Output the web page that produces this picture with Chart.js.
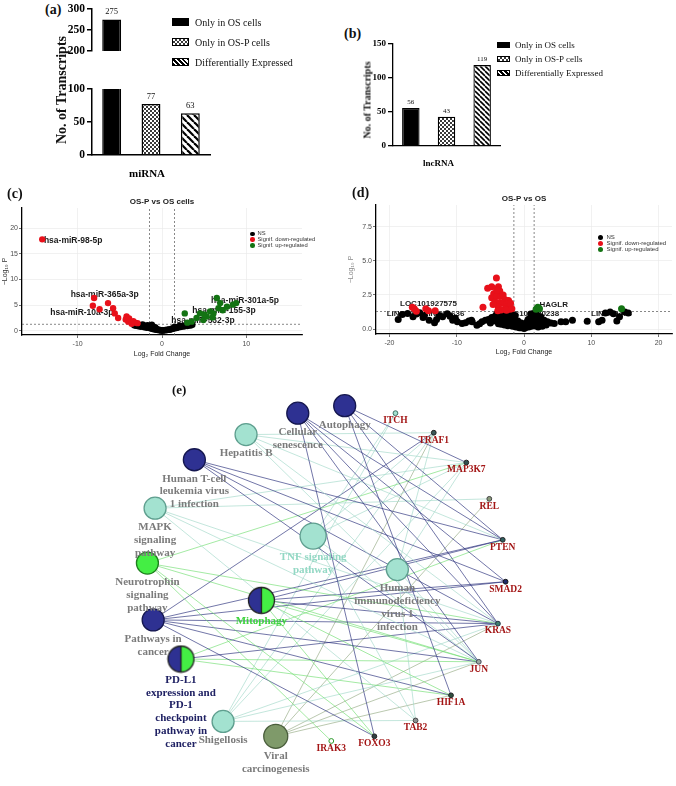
<!DOCTYPE html>
<html>
<head>
<meta charset="utf-8">
<title>OS vs OS-P transcripts</title>
<script src="https://cdn.jsdelivr.net/npm/chart.js@4.4.1/dist/chart.umd.min.js"></script>
<style>
  body { margin:0; width:676px; height:786px; position:relative; background:#fff; overflow:hidden; font-family:"Liberation Serif", serif; }
  .pane { position:absolute; }
  .tag { position:absolute; font:bold 14px "Liberation Serif", serif; color:#111; }
  .ytitle { position:absolute; transform:translate(-50%,-50%) rotate(-90deg); white-space:nowrap; font-weight:bold; color:#111; }
  .leg { position:absolute; color:#111; white-space:nowrap; }
  .leg div { display:flex; align-items:center; }
  .leg b { display:inline-block; border:1px solid #000; box-sizing:border-box; }
  .vleg { position:absolute; font-family:"Liberation Sans", sans-serif; color:#333; white-space:nowrap; }
  .vleg div { display:flex; align-items:center; }
  .vleg i { display:inline-block; border-radius:50%; }
</style>
</head>
<body>
<div class="tag" style="left:45px;top:2px">(a)</div>
<div class="pane" style="left:40px;top:0;width:175px;height:80px"><canvas id="mirTop"></canvas></div>
<div class="pane" style="left:40px;top:80px;width:175px;height:100px"><canvas id="mirBot"></canvas></div>
<div class="ytitle" style="left:62px;top:90px;font-size:14px">No. of Transcripts</div>
<div class="leg" id="legA" style="left:172px;top:12px;font-size:10px"></div>

<div class="tag" style="left:344px;top:26px">(b)</div>
<div class="pane" style="left:340px;top:36px;width:165px;height:136px"><canvas id="lnc"></canvas></div>
<div class="ytitle" style="left:367px;top:100px;font-size:10px">No. of Transcripts</div>
<div class="leg" id="legB" style="left:497px;top:38px;font-size:9px"></div>

<div class="tag" style="left:7px;top:186px">(c)</div>
<div class="pane" style="left:0;top:195px;width:310px;height:165px"><canvas id="volMir"></canvas></div>
<div class="vleg" id="legC" style="left:250px;top:231px;font-size:5.8px;line-height:5.8px"></div>

<div class="tag" style="left:352px;top:185px">(d)</div>
<div class="pane" style="left:335px;top:193px;width:341px;height:166px"><canvas id="volLnc"></canvas></div>
<div class="vleg" id="legD" style="left:598px;top:234px;font-size:6px;line-height:6px"></div>

<div class="pane" style="left:0;top:370px;width:676px;height:416px"><canvas id="net"></canvas></div>
<div class="tag" style="left:172px;top:382px;font-size:13px">(e)</div>

<script>
// ---- (a)/(b) transcript counts
const barGroups = ['Only in OS cells', 'Only in OS-P cells', 'Differentially Expressed'];
const mirnaCounts = [275, 77, 63];
const lncCounts = [56, 43, 119];

// ---- (c)/(d) volcano points: [log2 fold change, -log10 p]
const volcanoClasses = ['NS', 'Signif. down-regulated', 'Signif. up-regulated'];
const fcCut = 1.5;
const pCut = 1.3;

const mirNS = [[-3.3,1.1],[-3.1,1.0],[-2.9,1.2],[-2.8,0.9],[-2.6,1.0],[-2.5,0.8],[-2.4,1.1],[-2.3,1.25],[-2.2,0.9],
  [-2.1,0.7],[-2.0,1.0],[-1.9,0.8],[-1.8,0.6],[-1.7,1.1],[-1.6,0.7],[-1.5,0.9],[-1.4,0.5],[-1.3,0.7],[-1.2,0.4],
  [-1.2,1.2],[-1.1,0.6],[-1.0,0.3],[-0.9,0.5],[-0.8,0.3],[-0.8,0.7],[-0.7,0.2],[-0.6,0.4],[-0.5,0.15],[-0.4,0.25],
  [-0.3,0.1],[-0.2,0.2],[-0.1,0.05],[0.0,0.1],[0.1,0.05],[0.2,0.15],[0.3,0.1],[0.4,0.2],[0.5,0.1],[0.6,0.25],
  [0.7,0.2],[0.8,0.3],[0.9,0.2],[1.0,0.35],[1.1,0.3],[1.2,0.45],[1.3,0.4],[1.4,0.55],[1.5,0.5],[1.5,0.8],[1.6,0.6],
  [1.7,0.55],[1.8,0.7],[1.9,0.65],[2.0,0.8],[2.1,1.0],[2.2,0.75],[2.4,0.9],[2.6,0.85],[2.8,1.0],[3.0,0.95],
  [3.2,1.1],[3.4,1.05],[3.6,1.2]];
const mirDown = [[-14.2,17.8],[-8.05,6.4],[-8.2,4.9],[-7.4,4.2],[-6.4,5.4],[-5.8,4.4],[-5.6,3.4],[-5.2,2.5],
  [-4.2,2.8],[-4.0,1.8],[-3.2,1.6],[-3.6,1.4],[-4.3,2.2],[-3.9,2.4],[-3.4,1.9],[-2.9,1.5]];
const mirUp = [[2.7,3.4],[3.0,1.6],[3.5,1.8],[4.1,2.5],[4.5,3.4],[4.9,2.1],[5.3,2.8],[5.7,3.8],[6.1,3.4],
  [6.5,6.4],[6.7,4.4],[6.9,5.4],[7.7,4.7],[8.4,5.1],[8.8,5.4],[5.0,3.2],[6.0,2.6],[7.2,4.0]];
const mirTags = [['hsa-miR-98-5p',-14.0,17.6,'left'],['hsa-miR-365a-3p',-6.8,7.1,'center'],
  ['hsa-miR-10a-3p',-9.5,3.6,'center'],['hsa-miR-301a-5p',5.8,5.8,'left'],
  ['hsa-miR-155-3p',3.6,4.0,'left'],['hsa-miR-532-3p',1.1,2.0,'left']];

const lncNS = [[-18.7,0.7],[-18.1,1.07],[-17.3,1.15],[-16.5,0.9],[-16.0,1.1],[-15.5,1.2],[-15.0,0.85],[-14.8,1.0],
  [-14.1,0.65],[-13.3,0.46],[-13.0,0.7],[-12.6,1.0],[-12.1,0.9],[-11.4,1.13],[-11.0,0.95],[-10.6,0.65],[-10.2,0.8],
  [-9.9,0.53],[-9.2,0.41],[-8.7,0.46],[-8.2,0.6],[-7.8,0.65],[-7.7,0.53],[-7.0,0.29],[-6.6,0.4],[-6.25,0.53],
  [-5.75,0.65],[-5.3,0.7],[-5.0,0.45],[-4.8,0.85],[-4.5,0.6],[-4.3,0.94],[-4.05,1.13],[-3.9,0.75],[-3.8,0.4],
  [-3.6,1.0],[-3.5,0.6],[-3.4,0.35],[-3.3,1.25],[-3.2,0.8],[-3.0,0.5],[-2.9,0.3],[-2.8,1.13],[-2.7,0.7],[-2.6,0.9],
  [-2.5,0.45],[-2.4,0.25],[-2.4,1.2],[-2.3,1.0],[-2.2,0.6],[-2.1,0.8],[-2.0,0.35],[-1.9,0.9],[-1.8,0.55],[-1.8,1.1],
  [-1.7,0.2],[-1.6,0.65],[-1.5,0.3],[-1.4,0.75],[-1.3,0.45],[-1.3,1.0],[-1.2,0.15],[-1.1,0.46],[-1.0,0.2],
  [-0.9,0.6],[-0.8,0.35],[-0.7,0.1],[-0.6,0.29],[-0.5,0.1],[-0.4,0.45],[-0.3,0.2],[-0.15,0.12],[0.0,0.05],
  [0.1,0.3],[0.2,0.1],[0.35,0.17],[0.4,0.5],[0.5,0.25],[0.6,0.7],[0.7,0.15],[0.8,0.41],[0.9,0.8],[1.0,0.35],
  [1.0,1.1],[1.1,0.2],[1.2,0.65],[1.2,0.95],[1.3,0.5],[1.4,1.15],[1.5,0.9],[1.6,0.4],[1.7,0.25],[1.8,1.13],
  [1.8,0.95],[1.9,0.7],[2.0,1.0],[2.1,0.15],[2.2,0.55],[2.3,0.8],[2.5,0.9],[2.5,0.3],[2.7,0.2],[2.8,0.45],
  [3.0,0.65],[3.3,0.3],[3.5,0.53],[4.0,0.45],[4.5,0.41],[5.5,0.53],[6.2,0.53],[7.2,0.65],[9.4,0.58],[11.1,0.53],
  [11.6,0.65],[12.1,1.18],[12.8,1.25],[13.3,1.13],[13.8,0.6],[14.2,0.9],[15.0,1.25],[15.5,1.18]];
const lncDown = [[-16.6,1.6],[-16.3,1.5],[-16.0,1.3],[-14.6,1.5],[-14.2,1.35],[-13.2,1.35],[-6.1,1.6],
  [-4.1,3.75],[-5.4,3.0],[-3.8,3.1],[-4.5,2.6],[-3.6,2.8],[-4.8,2.3],[-4.1,2.4],[-3.4,2.4],[-2.8,2.15],
  [-4.3,2.0],[-3.6,1.95],[-3.1,1.9],[-2.6,1.8],[-2.1,1.67],[-3.8,1.6],[-2.8,1.5],[-2.1,1.45],[-3.4,1.4],
  [-2.3,2.1],[-3.1,2.5],[-4.05,2.85],[-4.8,3.1],[-2.6,1.38],[-1.8,1.5],[-4.6,1.8],[-3.9,1.35],[-2.0,1.9]];
const lncUp = [[2.05,1.6],[1.8,1.45],[2.3,1.5],[14.5,1.5]];
const lncTags = [['LOC101927575',-14.2,1.85,'center'],['LINC01194',-17.4,1.1,'center'],
  ['LINC00636',-11.9,1.1,'center'],['LOC100130238',1.0,1.1,'center'],['HAGLR',2.3,1.75,'left'],
  ['LINC00473',13.0,1.1,'center']];

// ---- (e) pathway / gene network
const pathways = ['Cellular\nsenescence', 'Autophagy', 'Hepatitis B', 'Human T-cell\nleukemia virus\n1 infection',
  'MAPK\nsignaling\npathway', 'TNF signaling\npathway', 'Neurotrophin\nsignaling\npathway', 'Mitophagy',
  'Human\nimmunodeficiency\nvirus 1\ninfection', 'Pathways in\ncancer',
  'PD-L1\nexpression and\nPD-1\ncheckpoint\npathway in\ncancer', 'Shigellosis', 'Viral\ncarcinogenesis'];
const pathwayCluster = ['A','A','C','A','C','C','B','AB','C','A','AB','C','D'];
const genes = ['ITCH','TRAF1','MAP3K7','REL','PTEN','SMAD2','KRAS','JUN','HIF1A','TAB2','FOXO3','IRAK3'];
// [pathway, gene, cluster of the link]
const links = [
  [0,4,'A'],[0,5,'A'],[0,6,'A'],[0,10,'A'],[0,7,'A'],
  [1,2,'A'],[1,4,'A'],[1,6,'A'],[1,8,'A'],
  [2,2,'C'],[2,6,'C'],[2,7,'C'],[2,4,'C'],[2,1,'C'],
  [3,4,'A'],[3,5,'A'],[3,6,'A'],[3,7,'A'],
  [4,2,'C'],[4,6,'C'],[4,7,'C'],[4,9,'C'],[4,3,'C'],
  [5,0,'C'],[5,1,'C'],[5,2,'C'],[5,7,'C'],[5,9,'C'],
  [6,6,'B'],[6,7,'B'],[6,10,'B'],[6,11,'B'],[6,2,'B'],
  [7,4,'A'],[7,5,'A'],[7,6,'A'],[7,7,'B'],[7,8,'B'],[7,10,'B'],
  [8,1,'C'],[8,2,'C'],[8,7,'C'],[8,9,'C'],
  [9,1,'A'],[9,4,'A'],[9,5,'A'],[9,6,'A'],[9,7,'A'],[9,8,'A'],[9,10,'A'],
  [10,6,'A'],[10,4,'B'],[10,7,'B'],[10,8,'B'],
  [11,0,'C'],[11,1,'C'],[11,2,'C'],[11,7,'C'],[11,9,'C'],[11,6,'C'],
  [12,1,'D'],[12,3,'D'],[12,6,'D'],[12,7,'D'],[12,8,'D']
];

// network layout (layout units on the network canvas scales)
const pathwayX = [296,345,242,188,147,312,139,258,400,145,174,218,273];
const pathwayY = [401,393,424,451,503,533,562,602,569,623,665,732,748];
const geneX = [398,438,472,496,510,513,505,485,456,419,376,331];
const geneY = [401,422,454,493,537,582,627,668,704,731,748,753];

// ---- styles
Chart.defaults.font.family = '"Liberation Serif", serif';
Chart.defaults.color = '#000';
const SANS = '"Liberation Sans", Arial, sans-serif';
const classColors = ['#000000', '#e8101a', '#137313'];
const swatchCss = ['#000', 'repeating-conic-gradient(#3a3a3a 0 25%, #fff 0 50%) 0 0/4px 4px',
  'repeating-linear-gradient(45deg,#000 0 1.5px,#fff 1.5px 3.5px)'];
const edgeColor = { A: 'rgba(45,50,125,0.75)', B: 'rgba(110,222,110,0.7)', C: 'rgba(165,218,203,0.75)', D: 'rgba(145,168,128,0.7)' };
const nodeFill = { A: '#2e3192', B: '#44ee44', C: '#a3e2d0', D: '#7f9a6a', AB: '#fff' };
const nodeEdge = { A: '#15174f', B: '#1f7f1f', C: '#5f9f8f', D: '#4a5e3c', AB: '#222' };
const pathwayRadius = [11,11,11,11,11,13,11,13,11,11,13,11,12];
const pathwayLabelColor = ['#7b7b7b','#7b7b7b','#7b7b7b','#7b7b7b','#7b7b7b','#93d8c4','#7b7b7b','#3ed33e',
  '#7b7b7b','#7b7b7b','#1f2163','#7b7b7b','#7b7b7b'];
const geneFill = ['#a3e2d0','#3b5a5a','#2f4f4f','#8a9a7a','#2f5f5f','#1e2a6a','#3f7f70','#9aa8a0','#2f4f3f','#8a9090','#2f3f3f','#ffffff'];
const geneEdge = ['#3f6f63','#222','#222','#444','#222','#111','#234','#445','#222','#444','#222','#2a9a2a'];

// ---- legends
function barLegend(id, w, h, gap, rowH) {
  document.getElementById(id).innerHTML = barGroups.map((g, i) =>
    `<div style="height:${rowH}px"><b style="width:${w}px;height:${h}px;margin-right:${gap}px;background:${swatchCss[i]}"></b>${g}</div>`).join('');
}
barLegend('legA', 17, 8, 6, 20);
barLegend('legB', 13, 6, 5, 14);

function volcanoLegend(id, dot, gap) {
  document.getElementById(id).innerHTML = volcanoClasses.map((c, i) =>
    `<div><i style="width:${dot}px;height:${dot}px;margin-right:${gap}px;background:${classColors[i]}"></i>${c}</div>`).join('');
}
volcanoLegend('legC', 4.5, 3);
volcanoLegend('legD', 5, 3.5);

// ---- bar charts
function fillFor(kind, ctx, stripe) {
  if (kind === 0) return '#000';
  const c = document.createElement('canvas');
  const g = c.getContext('2d');
  if (kind === 1) {
    c.width = c.height = 4;
    g.fillStyle = '#fff'; g.fillRect(0, 0, 4, 4);
    g.fillStyle = '#3a3a3a'; g.fillRect(0, 0, 2, 2); g.fillRect(2, 2, 2, 2);
  } else {
    c.width = c.height = stripe;
    g.fillStyle = '#fff'; g.fillRect(0, 0, stripe, stripe);
    g.strokeStyle = '#000'; g.lineWidth = stripe * 0.32;
    for (const o of [-stripe, 0, stripe]) {
      g.beginPath(); g.moveTo(o, 0); g.lineTo(o + stripe, stripe); g.stroke();
    }
  }
  return ctx.createPattern(c, 'repeat');
}

function valueLabels(font, gap) {
  return {
    id: 'valueLabels',
    afterDatasetsDraw(chart) {
      const { ctx } = chart, top = chart.scales.y.max;
      ctx.save();
      ctx.font = font; ctx.fillStyle = '#111'; ctx.textAlign = 'center'; ctx.textBaseline = 'bottom';
      chart.data.datasets.forEach((ds, i) => chart.getDatasetMeta(i).data.forEach((bar, j) => {
        const v = ds.data[j];
        if (v == null || v > top) return;
        ctx.fillText(String(v), bar.x, bar.y - gap);
      }));
      ctx.restore();
    }
  };
}

function barChart(id, values, keep, o) {
  return new Chart(document.getElementById(id), {
    type: 'bar',
    data: {
      labels: [o.category],
      datasets: barGroups.map((g, i) => ({
        label: g,
        data: [keep(values[i]) ? values[i] : null],
        backgroundColor: c => fillFor(i, c.chart.ctx, o.stripe),
        borderColor: '#000', borderWidth: o.border,
        barPercentage: o.barPct, categoryPercentage: 1
      }))
    },
    options: {
      responsive: true, maintainAspectRatio: false, animation: false, events: [],
      layout: { padding: o.padding },
      plugins: { legend: { display: false }, tooltip: { enabled: false } },
      scales: {
        x: {
          display: o.showX, grid: { display: false },
          border: { color: '#000', width: o.border },
          ticks: { color: '#000', padding: o.xPad, labelOffset: o.xShift, font: { weight: 'bold', size: o.xFont } },
          afterFit: s => { s.height = o.xHeight; }
        },
        y: {
          min: o.min, max: o.max,
          ticks: { stepSize: o.step, color: '#000', padding: 2, font: { weight: 'bold', size: o.yFont } },
          grid: { drawOnChartArea: false, tickLength: 5, color: '#000', lineWidth: o.border },
          border: { color: '#000', width: o.border },
          afterFit: s => { s.width = o.yWidth; }
        }
      }
    },
    plugins: [valueLabels(o.valueFont, o.gap)]
  });
}

const mirBase = { category: 'miRNA', border: 1.5, barPct: 0.48, stripe: 7, yFont: 11.5, yWidth: 52, xFont: 11,
  xPad: 5, xShift: -4, xHeight: 25, valueFont: '8.5px "Liberation Serif"', gap: 3 };
barChart('mirTop', mirnaCounts, v => v >= 200,
  Object.assign({}, mirBase, { showX: false, min: 200, max: 300, step: 50, padding: { top: 8, bottom: 4, right: 5, left: 0 } }));
barChart('mirBot', mirnaCounts, () => true,
  Object.assign({}, mirBase, { showX: true, min: 0, max: 100, step: 50, padding: { top: 8, bottom: 0, right: 5, left: 0 } }));
barChart('lnc', lncCounts, () => true, {
  category: 'lncRNA', border: 1.3, barPct: 0.49, stripe: 5, yFont: 9, yWidth: 53, xFont: 9, xPad: 4, xShift: -8,
  xHeight: 26, valueFont: '7px "Liberation Serif"', gap: 2, showX: true, min: 0, max: 150, step: 50,
  padding: { top: 8, bottom: 0, right: 5, left: 0 }
});

// ---- volcano plots
function textMarks(items, title, font, titleFont) {
  return {
    id: 'textMarks',
    beforeDatasetsDraw(chart) {
      const { ctx, scales: { x, y } } = chart;
      ctx.save();
      ctx.font = font; ctx.fillStyle = '#1a1a1a'; ctx.textBaseline = 'middle';
      items.forEach(([t, vx, vy, al]) => {
        ctx.textAlign = al;
        ctx.fillText(t, x.getPixelForValue(vx), y.getPixelForValue(vy));
      });
      ctx.restore();
    },
    afterDraw(chart) {
      const { ctx, chartArea, scales: { x } } = chart;
      ctx.save();
      ctx.font = titleFont; ctx.fillStyle = '#222'; ctx.textAlign = 'center'; ctx.textBaseline = 'bottom';
      ctx.fillText(title, x.getPixelForValue(0), chartArea.top - 2);
      ctx.restore();
    }
  };
}

function volcano(id, ns, down, up, tags, o) {
  const pts = arr => arr.map(([x, y]) => ({ x, y }));
  const guide = d => ({ data: d, showLine: true, borderColor: '#555', borderWidth: 0.7, borderDash: [2, 2], pointRadius: 0, order: 5 });
  const dots = (arr, k, ord) => ({ label: volcanoClasses[k], data: pts(arr), pointRadius: o.r, pointBorderWidth: 0,
    pointBackgroundColor: classColors[k], order: ord });
  return new Chart(document.getElementById(id), {
    type: 'scatter',
    data: {
      datasets: [
        dots(ns, 0, 3), dots(down, 1, 1), dots(up, 2, 1),
        guide([{ x: -fcCut, y: o.yMin }, { x: -fcCut, y: o.yMax }]),
        guide([{ x: fcCut, y: o.yMin }, { x: fcCut, y: o.yMax }]),
        guide([{ x: o.xMin, y: pCut }, { x: o.xMax, y: pCut }])
      ]
    },
    options: {
      responsive: true, maintainAspectRatio: false, animation: false, events: [],
      layout: { padding: o.padding },
      plugins: { legend: { display: false }, tooltip: { enabled: false } },
      scales: {
        x: {
          type: 'linear', min: o.xMin, max: o.xMax,
          ticks: { stepSize: 10, includeBounds: false, color: '#4d4d4d', padding: 2, font: { family: SANS, size: 7 } },
          grid: { color: '#ebebeb', lineWidth: 0.7, tickLength: 3, tickColor: '#333', tickWidth: 0.7 },
          border: { color: '#000', width: 1.3 },
          title: { display: true, text: 'Log₂ Fold Change', color: '#222', font: { family: SANS, size: 7 },
            padding: { top: 0, bottom: o.xTitlePad } },
          afterFit: s => { s.height = 25; }
        },
        y: {
          type: 'linear', min: o.yMin, max: o.yMax,
          ticks: { stepSize: o.yStep, includeBounds: false, color: '#4d4d4d', padding: 1,
            font: { family: SANS, size: 7 }, callback: o.yFmt },
          grid: { color: '#ebebeb', lineWidth: 0.7, tickLength: 3, tickColor: '#333', tickWidth: 0.7 },
          border: { color: '#000', width: 1.3 },
          title: { display: true, text: '−Log₁₀ P', color: o.yTitleColor, font: { family: SANS, size: 7 },
            padding: { top: o.yTitlePad, bottom: 1 } },
          afterFit: s => { s.width = o.yWidth; }
        }
      }
    },
    plugins: [textMarks(tags, o.title, `bold ${o.tagSize}px ${SANS}`, `bold 8px ${SANS}`)]
  });
}

volcano('volMir', mirNS, mirDown, mirUp, mirTags, {
  r: 3.2, xMin: -16.6, xMax: 16.6, yMin: -0.8, yMax: 23.9, yStep: 5, yFmt: v => String(v),
  yWidth: 22, yTitlePad: 1, yTitleColor: '#333', xTitlePad: 2, tagSize: 8.5, title: 'OS-P vs OS cells',
  padding: { top: 13, right: 8, bottom: 0, left: 0 }
});
volcano('volLnc', lncNS, lncDown, lncUp, lncTags, {
  r: 3.5, xMin: -22, xMax: 22, yMin: -0.36, yMax: 9.1, yStep: 2.5, yFmt: v => v.toFixed(1),
  yWidth: 41, yTitlePad: 12, yTitleColor: '#888', xTitlePad: 2.5, tagSize: 8, title: 'OS-P vs OS',
  padding: { top: 12, right: 0, bottom: 0, left: 0 }
});

// ---- network
function halfNode(r) {
  const c = document.createElement('canvas');
  const s = Math.ceil(2 * r + 3);
  c.width = c.height = s;
  const g = c.getContext('2d'), m = s / 2;
  g.beginPath(); g.moveTo(m, m); g.arc(m, m, r, -Math.PI / 2, Math.PI / 2, true); g.closePath();
  g.fillStyle = nodeFill.A; g.fill();
  g.beginPath(); g.moveTo(m, m); g.arc(m, m, r, -Math.PI / 2, Math.PI / 2, false); g.closePath();
  g.fillStyle = nodeFill.B; g.fill();
  g.lineWidth = 1.3; g.strokeStyle = '#222';
  g.beginPath(); g.arc(m, m, r, 0, Math.PI * 2); g.stroke();
  g.beginPath(); g.moveTo(m, m - r); g.lineTo(m, m + r); g.stroke();
  return c;
}
const halfImg = halfNode(13);

const nodeLabels = {
  id: 'nodeLabels',
  afterDatasetsDraw(chart) {
    const ctx = chart.ctx;
    chart.data.datasets.forEach((ds, i) => {
      if (!ds.names) return;
      ctx.save();
      ctx.font = ds.labelFont; ctx.textAlign = 'center'; ctx.textBaseline = 'middle';
      chart.getDatasetMeta(i).data.forEach((pt, j) => {
        ctx.fillStyle = ds.labelColors[j];
        const top = pt.y + pt.options.radius + ds.labelGap;
        ds.names[j].split('\n').forEach((ln, k) => ctx.fillText(ln, pt.x, top + k * ds.lineStep));
      });
      ctx.restore();
    });
  }
};

new Chart(document.getElementById('net'), {
  type: 'scatter',
  data: {
    datasets: [
      ...links.map(([p, g, k]) => ({
        data: [{ x: pathwayX[p], y: pathwayY[p] }, { x: geneX[g], y: geneY[g] }],
        showLine: true, borderColor: edgeColor[k], borderWidth: 0.9, pointRadius: 0, order: 2
      })),
      {
        data: genes.map((n, i) => ({ x: geneX[i], y: geneY[i] })), names: genes,
        pointRadius: 2.4, pointBackgroundColor: geneFill, pointBorderColor: geneEdge, pointBorderWidth: 1,
        labelFont: 'bold 9.5px "Liberation Serif"', labelColors: genes.map(() => '#a31515'),
        labelGap: 5, lineStep: 11, order: 1, clip: false
      },
      {
        data: pathways.map((n, i) => ({ x: pathwayX[i], y: pathwayY[i] })), names: pathways,
        pointRadius: pathwayRadius,
        pointStyle: pathwayCluster.map(k => k === 'AB' ? halfImg : 'circle'),
        pointBackgroundColor: pathwayCluster.map(k => nodeFill[k]),
        pointBorderColor: pathwayCluster.map(k => nodeEdge[k]), pointBorderWidth: 1.3,
        labelFont: 'bold 11px "Liberation Serif"', labelColors: pathwayLabelColor,
        labelGap: 8, lineStep: 12.8, order: 0, clip: false
      }
    ]
  },
  options: {
    responsive: true, maintainAspectRatio: false, animation: false, events: [],
    layout: { padding: 0 },
    plugins: { legend: { display: false }, tooltip: { enabled: false } },
    scales: {
      x: { type: 'linear', display: false, min: 0, max: 676 },
      y: { type: 'linear', display: false, min: 370, max: 786, reverse: true }
    }
  },
  plugins: [nodeLabels]
});
</script>
</body>
</html>
